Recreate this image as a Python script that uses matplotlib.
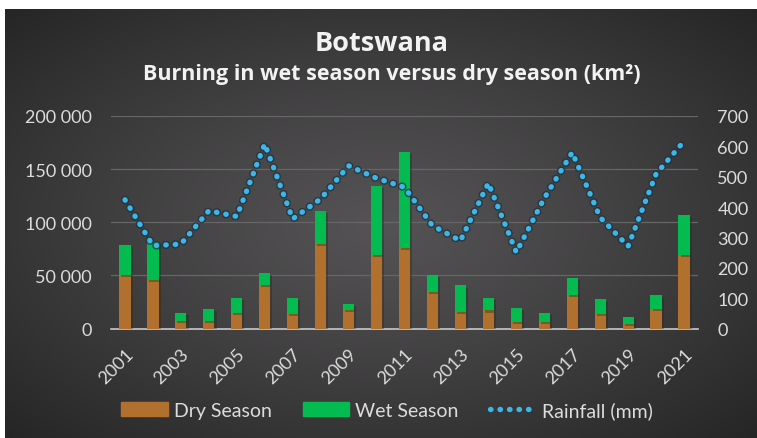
import numpy as np
import matplotlib.pyplot as plt
import matplotlib.patheffects as pe
from matplotlib.lines import Line2D
from matplotlib.patches import Patch

plt.rcParams['font.family'] = ['Lato', 'DejaVu Sans']

# Data
years = list(range(2001, 2022))
dry = [50000, 46000, 7000, 7000, 15000, 41000, 13500, 80000, 17500, 69000, 76000,
       34000, 15500, 17000, 6000, 6000, 32000, 14000, 4500, 18000, 69000]
total = [78500, 81500, 15000, 18000, 28500, 52000, 28500, 110500, 23000, 134500, 166500,
         50000, 40500, 28500, 19000, 14700, 47700, 27300, 11200, 32000, 106500]
wet = [t - d for t, d in zip(total, dry)]
rain = [424, 273, 278, 388, 369, 608, 361, 427, 536, 495, 465,
        339, 289, 479, 251, 429, 580, 366, 271, 509, 617]

dry_color = '#b2702f'
wet_color = '#04bb50'
rain_color = '#3ab8ea'
text_color = '#dcdcdc'
dots = (0, (0.1, 1.7))

fig = plt.figure(figsize=(7.57, 4.39), dpi=100, facecolor='white')

# dark radial-gradient background (white strip on top and left edge)
bg = fig.add_axes([5 / 757, 0, 752 / 757, 429 / 439])
yy, xx = np.mgrid[-1:1:200j, -1:1:300j]
r = np.clip(np.sqrt(xx ** 2 + yy ** 2) / np.sqrt(2), 0, 1)
shade = 0.33 - 0.18 * r ** 1.2
img = np.dstack([shade, shade * 0.98, shade])
bg.imshow(img, aspect='auto', extent=[0, 1, 0, 1])
bg.axis('off')

ax = fig.add_axes([111 / 757, 1 - 329.5 / 439, 587 / 757, 212.5 / 439])
ax.set_facecolor('none')
x = np.arange(len(years))
shadow = [pe.SimplePatchShadow(offset=(1.5, -1.5), alpha=0.35), pe.Normal()]
ax.bar(x, dry, width=0.4, color=dry_color, zorder=3, path_effects=shadow)
ax.bar(x, wet, width=0.4, bottom=dry, color=wet_color, zorder=3, path_effects=shadow)
ax.set_xlim(-0.5, len(years) - 0.5)
ax.set_ylim(0, 200000)
ax.set_yticks([0, 50000, 100000, 150000, 200000])
ax.set_yticklabels(['0', '50 000', '100 000', '150 000', '200 000'])
ax.grid(axis='y', color='#666666', linewidth=0.9, zorder=0)
ax.set_xticks(x[::2])
ax.set_xticklabels([str(y) for y in years[::2]], rotation=45, ha='right',
                   rotation_mode='anchor')
for s in ['top', 'left', 'right']:
    ax.spines[s].set_visible(False)
ax.spines['bottom'].set_color('#c8c8c8')
ax.spines['bottom'].set_linewidth(1.2)
ax.tick_params(colors=text_color, labelsize=13, length=0, pad=14)
ax.tick_params(axis='x', pad=12)

ax2 = ax.twinx()
ax2.plot(x, rain, color=rain_color, linewidth=3.8, linestyle=dots,
         dash_capstyle='round', zorder=4,
         path_effects=[pe.Stroke(linewidth=6, foreground='#22303c', alpha=0.7), pe.Normal()])
ax2.set_ylim(0, 700)
ax2.set_yticks(range(0, 800, 100))
for s in ['top', 'left', 'right', 'bottom']:
    ax2.spines[s].set_visible(False)
ax2.tick_params(colors=text_color, labelsize=13, length=0, pad=14)

fig.text(382 / 757, 1 - 44 / 439, 'Botswana', ha='center', va='center',
         fontsize=19.5, fontweight='bold', color='#f2f2f2', family='Open Sans')
fig.text(392 / 757, 1 - 75 / 439, 'Burning in wet season versus dry season (km²)',
         ha='center', va='center', fontsize=15.5, fontweight='bold',
         color='#f2f2f2', family='Open Sans')

handles = [Patch(color=dry_color, label='Dry Season'),
           Patch(color=wet_color, label='Wet Season'),
           Line2D([0], [0], color=rain_color, linewidth=3.8, linestyle=dots,
                  dash_capstyle='round', label='Rainfall (mm)')]
fig.legend(handles=handles, loc='center', bbox_to_anchor=(387 / 757, 1 - 411 / 439),
           ncol=3, frameon=False, fontsize=14, labelcolor=text_color,
           handlelength=2.4, handleheight=0.75, columnspacing=1.6, handletextpad=0.3)

fig.savefig('out.png', dpi=100, facecolor='white')
